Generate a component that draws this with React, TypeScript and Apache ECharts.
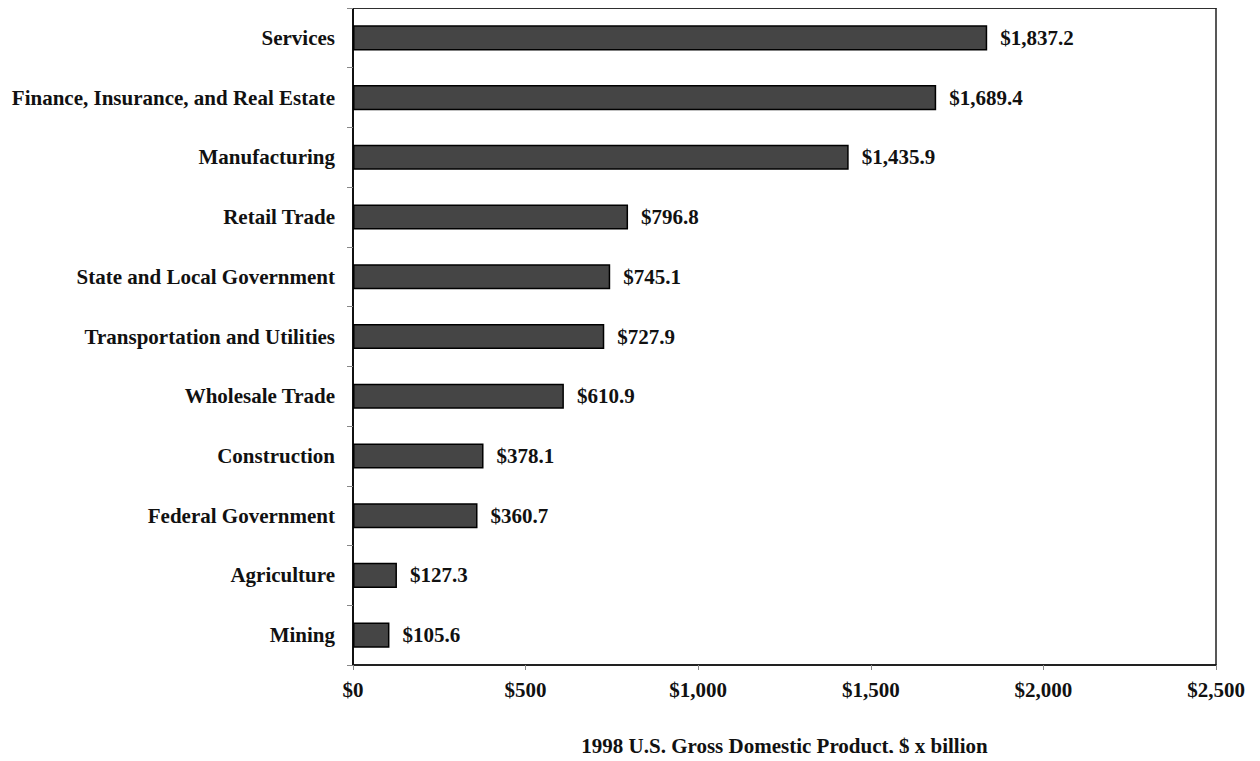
import React, { useEffect, useRef } from "react";
import * as echarts from "echarts";

const categories = [
  "Services",
  "Finance, Insurance, and Real Estate",
  "Manufacturing",
  "Retail Trade",
  "State and Local Government",
  "Transportation and Utilities",
  "Wholesale Trade",
  "Construction",
  "Federal Government",
  "Agriculture",
  "Mining",
];
const values = [1837.2, 1689.4, 1435.9, 796.8, 745.1, 727.9, 610.9, 378.1, 360.7, 127.3, 105.6];
const xTicks = [0, 500, 1000, 1500, 2000, 2500];
const xTitle = "1998 U.S. Gross Domestic Product, $ x billion";

const fmt = (v: number, dec: number) =>
  "$" + v.toLocaleString("en-US", { minimumFractionDigits: dec, maximumFractionDigits: dec });

export default function App() {
  const ref = useRef<HTMLDivElement>(null);
  useEffect(() => {
    if (!ref.current) return;
    const chart = echarts.init(ref.current, undefined, { renderer: "svg" });
    const font = "'Liberation Serif', 'Times New Roman', serif";
    chart.setOption({
      animation: false,
      backgroundColor: "#ffffff",
      textStyle: { fontFamily: font },
      grid: {
        left: 353,
        right: 44,
        top: 8,
        bottom: 94,
        show: true,
        borderColor: "#222",
        borderWidth: 1.5,
      },
      xAxis: [
        {
          type: "value",
          min: xTicks[0],
          max: xTicks[xTicks.length - 1],
          interval: 500,
          splitLine: { show: false },
          axisLine: { show: true, lineStyle: { color: "#111", width: 1.5 } },
          axisTick: { show: true, length: 5, lineStyle: { color: "#888" } },
          axisLabel: {
            margin: 14,
            color: "#111",
            fontFamily: font,
            fontWeight: "bold",
            fontSize: 21,
            formatter: (v: number) => fmt(v, 0),
          },
          name: xTitle,
          nameLocation: "middle",
          nameGap: 70,
          nameTextStyle: { color: "#111", fontFamily: font, fontWeight: "bold", fontSize: 21 },
        },
        {
          type: "value",
          position: "top",
          min: xTicks[0],
          max: xTicks[xTicks.length - 1],
          interval: 500,
          splitLine: { show: false },
          axisLine: { show: true, onZero: false, lineStyle: { color: "#222", width: 1.5 } },
          axisTick: { show: false },
          axisLabel: { show: false },
        },
      ],
      yAxis: {
        type: "category",
        data: categories,
        inverse: true,
        axisLine: { show: true, lineStyle: { color: "#111", width: 2 } },
        axisTick: { show: true, length: 6, lineStyle: { color: "#888" } },
        axisLabel: {
          margin: 18,
          color: "#111",
          fontFamily: font,
          fontWeight: "bold",
          fontSize: 21,
        },
      },
      series: [
        {
          type: "bar",
          data: values,
          barWidth: "42%",
          itemStyle: { color: "#454545", borderColor: "#000", borderWidth: 1.5 },
          label: {
            show: true,
            position: "right",
            distance: 13,
            color: "#111",
            fontFamily: font,
            fontWeight: "bold",
            fontSize: 21,
            formatter: (p: any) => fmt(p.value, 1),
          },
        },
      ],
    });
    return () => chart.dispose();
  }, []);
  return <div ref={ref} style={{ width: 1260, height: 761, margin: -8 }} />;
}
